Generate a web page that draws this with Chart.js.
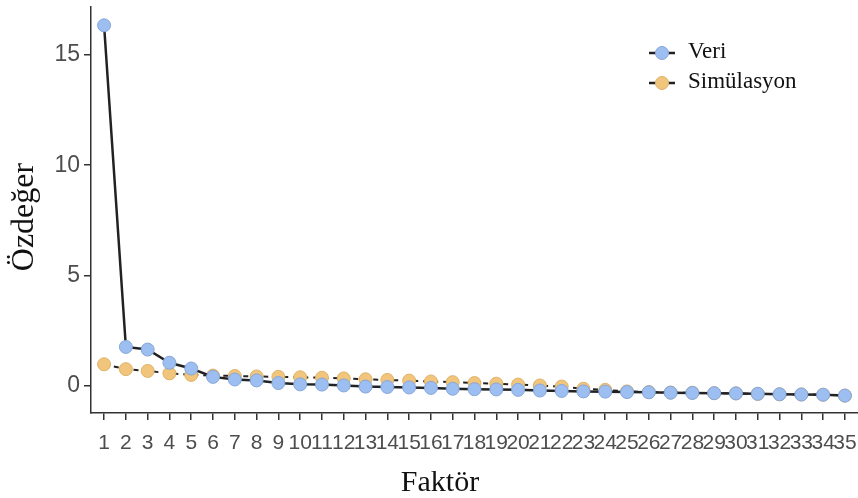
<!DOCTYPE html>
<html>
<head>
<meta charset="utf-8">
<script src="https://cdn.jsdelivr.net/npm/chart.js@4.4.0/dist/chart.umd.min.js"></script>
<style>
  html, body { margin: 0; padding: 0; background: #fff; }
  #wrap { width: 858px; height: 498px; position: relative; }
</style>
</head>
<body>
<div id="wrap"><canvas id="screeChart"></canvas></div>
<script>
// Scree plot data
var factors = [1, 2, 3, 4, 5, 6, 7, 8, 9, 10, 11, 12, 13, 14, 15, 16, 17, 18,
    19, 20, 21, 22, 23, 24, 25, 26, 27, 28, 29, 30, 31, 32, 33, 34, 35];
var veri = [16.35, 1.75, 1.63, 1.03, 0.77, 0.39, 0.27, 0.23, 0.11, 0.05, 0.04, 0.0,
    -0.05, -0.07, -0.09, -0.11, -0.15, -0.17, -0.18, -0.2, -0.23, -0.25, -0.27, -0.28,
    -0.3, -0.31, -0.33, -0.34, -0.35, -0.36, -0.38, -0.4, -0.41, -0.42, -0.46];
var simulasyon = [0.96, 0.74, 0.66, 0.55, 0.48, 0.45, 0.43, 0.41, 0.39, 0.37, 0.35, 0.32,
    0.28, 0.25, 0.22, 0.18, 0.15, 0.11, 0.08, 0.04, 0.0, -0.05, -0.15, -0.2,
    -0.27, -0.3, -0.32, -0.33, -0.35, -0.36, -0.38, -0.4, -0.41, -0.42, -0.46];
var yTicks = [0, 5, 10, 15];
var seriesNames = ["Veri", "Simülasyon"];
var xTitle = "Faktör";
var yTitle = "Özdeğer";

var blueFill = "#9DBEF0", blueEdge = "#86A7DA";
var orangeFill = "#F1C57B", orangeEdge = "#DDB26A";

function toPoints(values) {
    return values.map(function (v, i) { return { x: factors[i], y: v }; });
}

// axis titles and legend, drawn by hand so they sit where the original has them
var decorPlugin = {
    id: "decor",
    afterDraw: function (chart) {
        var ctx = chart.ctx;
        ctx.save();
        ctx.fillStyle = "#111";
        ctx.font = "30px 'Liberation Serif', 'Times New Roman', serif";
        ctx.textAlign = "center";
        ctx.textBaseline = "alphabetic";
        ctx.fillText(xTitle, 440, 491);
        ctx.font = "32px 'Liberation Serif', 'Times New Roman', serif";
        ctx.translate(33, 217);
        ctx.rotate(-Math.PI / 2);
        ctx.fillText(yTitle, 0, 0);
        ctx.restore();

        var fills = [blueFill, orangeFill];
        var edges = [blueEdge, orangeEdge];
        ctx.save();
        ctx.font = "23px 'Liberation Serif', 'Times New Roman', serif";
        ctx.textAlign = "left";
        ctx.textBaseline = "alphabetic";
        for (var i = 0; i < seriesNames.length; i++) {
            var cy = 53 + i * 30;
            ctx.strokeStyle = "#222";
            ctx.lineWidth = 2.5;
            ctx.beginPath();
            ctx.moveTo(649, cy);
            ctx.lineTo(675, cy);
            ctx.stroke();
            ctx.beginPath();
            ctx.arc(662, cy, 6.5, 0, Math.PI * 2);
            ctx.fillStyle = fills[i];
            ctx.fill();
            ctx.lineWidth = 1;
            ctx.strokeStyle = edges[i];
            ctx.stroke();
            ctx.fillStyle = "#111";
            ctx.fillText(seriesNames[i], 688, cy + 5);
        }
        ctx.restore();
    }
};

document.addEventListener("DOMContentLoaded", function () {
    var canvas = document.getElementById("screeChart");
    var screeChart = new Chart(canvas, {
        type: "line",
        data: {
            datasets: [{
                label: seriesNames[0],
                data: toPoints(veri),
                borderColor: "#222",
                borderWidth: 2.5,
                pointBackgroundColor: blueFill,
                pointBorderColor: blueEdge,
                pointBorderWidth: 1,
                pointRadius: 6.5,
                tension: 0,
                clip: false,
                order: 0
            }, {
                label: seriesNames[1],
                data: toPoints(simulasyon),
                borderColor: "#222",
                borderWidth: 2,
                borderDash: [5, 5],
                pointBackgroundColor: orangeFill,
                pointBorderColor: orangeEdge,
                pointBorderWidth: 1,
                pointRadius: 6.5,
                tension: 0,
                clip: false,
                order: 1
            }]
        },
        options: {
            responsive: true,
            maintainAspectRatio: false,
            animation: false,
            layout: { autoPadding: false, padding: { top: 7, left: 0, right: 0, bottom: 0 } },
            plugins: {
                legend: { display: false },
                tooltip: { enabled: false }
            },
            scales: {
                x: {
                    type: "linear",
                    min: 0.4,
                    max: 35.6,
                    afterBuildTicks: function (axis) {
                        axis.ticks = factors.map(function (v) { return { value: v }; });
                    },
                    afterFit: function (axis) {
                        axis.height = 85;
                        axis.paddingLeft = 0;
                        axis.paddingRight = 0;
                    },
                    ticks: {
                        autoSkip: false,
                        maxRotation: 0,
                        minRotation: 0,
                        padding: 11,
                        color: "#4d4d4d",
                        font: { family: "'Liberation Sans', Arial, sans-serif", size: 21 }
                    },
                    grid: { drawOnChartArea: false, tickLength: 7, color: "#333", lineWidth: 1.5 },
                    border: { color: "#333", width: 1.5 }
                },
                y: {
                    type: "linear",
                    min: -1.25,
                    max: 17.18,
                    afterBuildTicks: function (axis) {
                        axis.ticks = yTicks.map(function (v) { return { value: v }; });
                    },
                    afterFit: function (axis) {
                        axis.width = 91;
                        axis.paddingTop = 0;
                        axis.paddingBottom = 0;
                    },
                    ticks: {
                        padding: 4,
                        color: "#4d4d4d",
                        font: { family: "'Liberation Sans', Arial, sans-serif", size: 23 }
                    },
                    grid: { drawOnChartArea: false, tickLength: 7, color: "#333", lineWidth: 1.5 },
                    border: { color: "#333", width: 1.5 }
                }
            }
        },
        plugins: [decorPlugin]
    });
});
</script>
</body>
</html>
